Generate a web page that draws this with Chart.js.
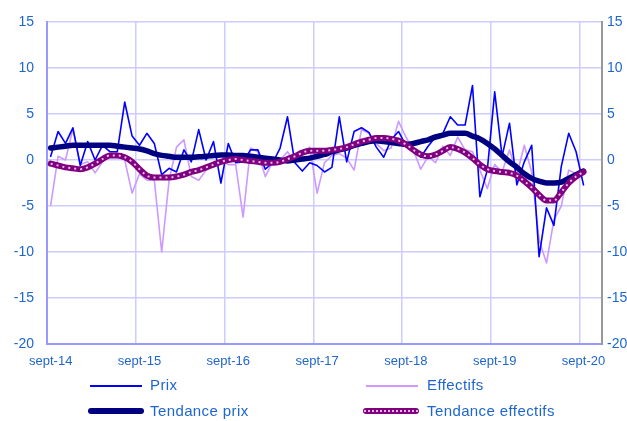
<!DOCTYPE html>
<html lang="fr">
<head>
<meta charset="UTF-8">
<title>Prix et effectifs</title>
<script src="https://cdn.jsdelivr.net/npm/chart.js"></script>
<style>
  * { margin: 0; padding: 0; box-sizing: border-box; }
  body { background: #fff; font-family: 'Liberation Sans', Arial, sans-serif; }
  #wrap { position: relative; width: 627px; height: 421px; }
  .leg { position: absolute; font-size: 15px; letter-spacing: 0.4px; color: #1f66cc; line-height: 18px; }
  .sw { position: absolute; }
</style>
</head>
<body>
<div id="wrap">
  <canvas id="chart" width="627" height="421"></canvas>
  <div class="sw" style="left:90px;top:385px;width:52px;height:2px;background:#0000ff"></div>
  <div class="leg" style="left:150px;top:376px">Prix</div>
  <div class="sw" style="left:366px;top:385px;width:52px;height:2px;background:#cc99ff"></div>
  <div class="leg" style="left:427px;top:376px">Effectifs</div>
  <div class="sw" style="left:88px;top:408px;width:56px;height:6px;border-radius:3px;background:#000080"></div>
  <div class="leg" style="left:150px;top:402px">Tendance prix</div>
  <div class="sw" style="left:363px;top:408px;width:56px;height:6px;border-radius:3px;background:#800080"></div>
  <div class="sw" style="left:364px;top:410px;width:54px;height:0;border-top:2px dotted #e0b8e0"></div>
  <div class="leg" style="left:427px;top:402px">Tendance effectifs</div>
</div>
<script>
// months sept-14 .. sept-20
const months = [
  'sept-14','oct-14','nov-14','déc-14',
  'janv-15','févr-15','mars-15','avr-15','mai-15','juin-15','juil-15','août-15','sept-15','oct-15','nov-15','déc-15',
  'janv-16','févr-16','mars-16','avr-16','mai-16','juin-16','juil-16','août-16','sept-16','oct-16','nov-16','déc-16',
  'janv-17','févr-17','mars-17','avr-17','mai-17','juin-17','juil-17','août-17','sept-17','oct-17','nov-17','déc-17',
  'janv-18','févr-18','mars-18','avr-18','mai-18','juin-18','juil-18','août-18','sept-18','oct-18','nov-18','déc-18',
  'janv-19','févr-19','mars-19','avr-19','mai-19','juin-19','juil-19','août-19','sept-19','oct-19','nov-19','déc-19',
  'janv-20','févr-20','mars-20','avr-20','mai-20','juin-20','juil-20','août-20','sept-20'
];
const xLabels = ['sept-14','sept-15','sept-16','sept-17','sept-18','sept-19','sept-20'];
const yTicks = [-20, -15, -10, -5, 0, 5, 10, 15];

const prix = [
  0.4, 3.1, 1.8, 3.5, -0.6, 2.0, 0.0, 1.6, 0.9, 0.9,
  6.3, 2.6, 1.6, 2.9, 1.8, -1.6, -0.9, -1.3, 1.1, -0.2,
  3.3, 0.0, 2.0, -2.5, 1.8, -0.3, -0.2, 1.1, 1.1, -1.0,
  -0.3, 1.3, 4.7, -0.3, -1.2, -0.3, -0.6, -1.3, -0.8, 4.7,
  -0.2, 3.1, 3.5, 3.0, 1.4, 0.3, 2.2, 3.1, 1.6, 1.3,
  0.3, 1.5, 2.5, 2.9, 4.7, 3.8, 3.8, 8.1, -4.0, -1.1,
  7.4, 0.4, 4.0, -2.7, -0.2, 1.6, -10.5, -5.2, -7.1, -0.7,
  2.9, 0.9, -2.7
];
const effectifs = [
  -4.9, 0.4, 0.0, 3.4, -0.5, -0.2, -1.4, -0.2, 0.5, 0.5,
  0.0, -3.6, -1.5, -2.2, -2.2, -10.0, -2.2, 1.4, 2.2, -1.8,
  -2.2, -1.1, -0.5, 0.0, -0.5, -0.5, -6.2, 1.3, 0.9, -1.8,
  -0.2, 0.0, 0.9, -0.3, 0.5, 1.4, -3.6, -0.3, 0.5, 0.7,
  0.2, -1.1, 3.3, 2.9, 1.8, 1.0, 1.3, 4.2, 2.5, 1.1,
  -1.0, 0.4, -0.3, 1.5, 0.5, 2.5, 1.1, 0.9, -1.1, -3.1,
  -0.5, -1.3, 1.1, -1.6, 1.6, -1.3, -8.7, -11.2, -6.5, -5.0,
  -1.1, -1.5, -1.3
];
const tendancePrix = [
  1.3, 1.4, 1.5, 1.6, 1.6, 1.6, 1.6, 1.6, 1.6, 1.5,
  1.4, 1.3, 1.2, 1.0, 0.7, 0.5, 0.4, 0.3, 0.3, 0.3,
  0.35, 0.4, 0.5, 0.55, 0.55, 0.5, 0.5, 0.4, 0.3, 0.2,
  0.1, 0.0, -0.1, 0.0, 0.1, 0.2, 0.4, 0.6, 0.9, 1.1,
  1.3, 1.6, 1.8, 2.0, 2.1, 2.0, 1.9, 1.8, 1.7, 1.8,
  2.0, 2.2, 2.5, 2.7, 2.9, 2.9, 2.9, 2.6, 2.3, 1.8,
  1.2, 0.5, -0.2, -0.8, -1.5, -2.0, -2.3, -2.5, -2.5, -2.4,
  -2.0, -1.6, -1.2
];
const tendanceEffectifs = [
  -0.4, -0.6, -0.8, -0.9, -1.0, -0.8, -0.4, 0.1, 0.5, 0.5,
  0.3, -0.2, -1.0, -1.7, -1.9, -1.9, -1.9, -1.8, -1.6, -1.3,
  -1.1, -0.8, -0.5, -0.2, 0.0, 0.1, 0.0, -0.1, -0.2, -0.3,
  -0.3, -0.2, 0.1, 0.4, 0.8, 1.0, 1.0, 1.0, 1.1, 1.2,
  1.4, 1.7, 2.0, 2.2, 2.4, 2.4, 2.3, 2.1, 1.7, 1.1,
  0.6, 0.4, 0.6, 1.0, 1.4, 1.2, 0.8, 0.2, -0.5, -1.0,
  -1.2, -1.3, -1.4, -1.7, -2.3, -3.0, -3.8, -4.4, -4.4, -3.5,
  -2.5, -1.8, -1.3
];

const blueText = '#1f66cc';
const gridCol = '#ccccff';
// each month sits in the middle of its slot, sept gridlines on the slot edges
const pts = arr => months.map((m, i) => ({ x: i + 0.5, y: arr[i] }));

function line(label, data, color, width, order, smooth) {
  return {
    label, data: pts(data), borderColor: color, backgroundColor: color,
    borderWidth: width, pointRadius: 0, order,
    tension: smooth ? 0.4 : 0, cubicInterpolationMode: smooth ? 'monotone' : 'default',
    borderCapStyle: 'round', borderJoinStyle: 'round'
  };
}

const overlay = line('dots', tendanceEffectifs, 'rgba(236,200,236,0.95)', 2, 0, true);
overlay.borderDash = [2, 4];
overlay.borderCapStyle = 'butt';

new Chart(document.getElementById('chart'), {
  type: 'line',
  data: {
    datasets: [
      overlay,
      line('Tendance effectifs', tendanceEffectifs, '#800080', 6, 1, true),
      line('Tendance prix', tendancePrix, '#000080', 5.5, 2, true),
      line('Prix', prix, '#0000ff', 1.6, 3, false),
      line('Effectifs', effectifs, '#cc99ff', 1.6, 4, false)
    ]
  },
  options: {
    responsive: false,
    animation: false,
    layout: { padding: { top: 22, left: 0, right: 0, bottom: 0 } },
    plugins: { legend: { display: false }, tooltip: { enabled: false } },
    scales: {
      x: {
        type: 'linear', min: 0, max: 75,
        afterBuildTicks: s => { s.ticks = xLabels.map((l, k) => ({ value: k * 12 })); },
        afterFit: s => { s.height = 77; s.paddingLeft = 0; s.paddingRight = 0; },
        grid: { color: gridCol, lineWidth: 1.5, drawTicks: false },
        border: { color: '#9999ff', width: 2 },
        ticks: {
          color: blueText, padding: 10, maxRotation: 0, autoSkip: false, labelOffset: 3.7,
          font: { family: 'Liberation Sans', size: 13 },
          callback: v => xLabels[Math.round(v / 12)]
        }
      },
      y: {
        position: 'left', min: -20, max: 15,
        afterBuildTicks: s => { s.ticks = yTicks.map(v => ({ value: v })); },
        afterFit: s => { s.width = 47; s.paddingTop = 0; s.paddingBottom = 0; },
        grid: { color: gridCol, lineWidth: 1.5, drawTicks: false },
        border: { color: '#9999ff', width: 2 },
        ticks: { color: blueText, padding: 13, font: { family: 'Liberation Sans', size: 14 } }
      },
      y2: {
        position: 'right', min: -20, max: 15,
        afterBuildTicks: s => { s.ticks = yTicks.map(v => ({ value: v })); },
        afterFit: s => { s.width = 25; s.paddingTop = 0; s.paddingBottom = 0; },
        grid: { display: false, drawTicks: false },
        border: { color: '#999999', width: 2 },
        ticks: { color: blueText, padding: 5, font: { family: 'Liberation Sans', size: 14 } }
      }
    }
  }
});
</script>
</body>
</html>
